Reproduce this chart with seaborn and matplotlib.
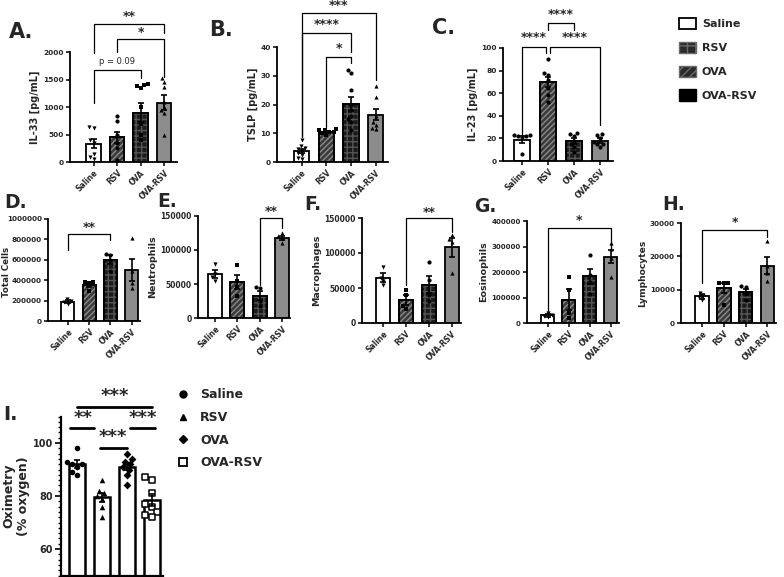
import warnings
warnings.filterwarnings("ignore")
import numpy as np
import pandas as pd
import matplotlib
matplotlib.use("Agg")
import matplotlib.pyplot as plt
import seaborn as sns
from matplotlib.patches import Patch, Rectangle
from matplotlib.lines import Line2D

sns.set_theme(style="ticks")
plt.rcParams["font.family"] = ["DejaVu Sans"]
plt.rcParams["font.weight"] = "bold"
plt.rcParams["axes.labelweight"] = "bold"
plt.rcParams["hatch.linewidth"] = 1.0

groups = ["Saline", "RSV", "OVA", "OVA-RSV"]

# ---------------- data ----------------
# A: IL-33
a_saline = [640, 620, 400, 350, 150, 100, 60]
a_rsv = [830, 740, 500, 350, 250, 30]
a_ova = [1420, 1380, 1400, 1350, 1000, 700, 500, 400]
a_ova_rsv = [1520, 1450, 1370, 1100, 1000, 950, 900, 500]
a_mean = [330, 450, 900, 1080]
a_sem = [80, 100, 170, 130]
# B: TSLP
b_saline = [7.5, 5.5, 5, 4.5, 4, 3, 2.5, 1.5, 1]
b_rsv = [11.5, 11, 11, 10.5, 10.5, 10, 9.5]
b_ova = [32, 31, 25, 20, 18, 16, 15, 14, 11]
b_ova_rsv = [26.5, 22.5, 16, 14, 13, 12, 11.5]
b_mean = [3.8, 10.5, 20.2, 16.5]
b_sem = [0.7, 0.4, 2.3, 2.0]
# C: IL-23
c_saline = [23, 23, 22, 22, 21, 6]
c_rsv = [90, 78, 76, 72, 65, 58, 52]
c_ova = [25, 24, 22, 18, 15, 12, 8]
c_ova_rsv = [24, 23, 20, 17, 15, 15, 12]
c_mean = [19, 70, 17.5, 18]
c_sem = [2.7, 4.5, 2.5, 2.0]
# D: Total cells
d_saline = [215000, 195000, 185000, 165000]
d_rsv = [385000, 380000, 370000, 290000]
d_ova = [660000, 650000, 600000, 490000]
d_ova_rsv = [815000, 490000, 370000, 325000]
d_mean = [190000, 355000, 600000, 500000]
d_sem = [12000, 20000, 45000, 110000]
# E: Neutrophils
e_saline = [80000, 65000, 60000, 55000]
e_rsv = [78000, 55000, 45000, 33000]
e_ova = [46000, 44000, 25000, 17000]
e_ova_rsv = [125000, 120000, 118000, 110000]
e_mean = [65000, 53000, 33000, 118000]
e_sem = [6000, 10000, 7000, 3000]
# F: Macrophages
f_saline = [80000, 65000, 60000, 54000]
f_rsv = [47000, 40000, 25000, 20000]
f_ova = [87000, 62000, 40000, 31000]
f_ova_rsv = [125000, 120000, 115000, 72000]
f_mean = [65000, 33000, 55000, 108000]
f_sem = [6000, 7000, 12000, 13000]
# G: Eosinophils
g_saline = [40000, 30000, 28000, 22000]
g_rsv = [180000, 130000, 40000, 18000]
g_ova = [267000, 190000, 160000, 115000]
g_ova_rsv = [315000, 290000, 255000, 180000]
g_mean = [30000, 92000, 183000, 260000]
g_sem = [5000, 40000, 30000, 25000]
# H: Lymphocytes
h_saline = [9000, 8200, 7800, 7000]
h_rsv = [12000, 12000, 12000, 5500]
h_ova = [11000, 10800, 8800, 7000]
h_ova_rsv = [24500, 17000, 15000, 12500]
h_mean = [8000, 10400, 9400, 17200]
h_sem = [700, 1500, 800, 2600]
# I: Oximetry
i_saline = [98, 93, 92, 92, 91, 89, 88]
i_rsv = [86, 82, 81, 80, 79, 76, 72]
i_ova = [96, 94, 93, 92, 91, 90, 88, 84]
i_ova_rsv = [87, 86, 81, 77, 76, 74, 73, 72]
i_mean = [92, 79.5, 91, 78.5]
i_sem = [1.5, 1.8, 1.3, 2.2]

# ---------------- styling ----------------
W, H = 784, 577
fig = plt.figure(figsize=(W / 100, H / 100), dpi=100)

FILL = {"Saline": "white", "RSV": "#3a3a3a", "OVA": "#1a1a1a", "OVA-RSV": "#8c8c8c"}
HATCH = {"RSV": ("//////", "#8a8a8a"), "OVA": ("+++", "#555555")}


def make_ax(left, right, top, bottom):
    return fig.add_axes([left / W, 1 - bottom / H, (right - left) / W, (bottom - top) / H])


def draw_panel(ax, pts, means, sems, markers, xlim, ylim, yticks, ylabel,
               tick_fs=5.3, label_fs=7, pt_size=3, white=False, xlabels=True):
    fills = {g: "white" for g in groups} if white else FILL
    bdf = pd.DataFrame({"group": groups, "mean": means})
    sns.barplot(data=bdf, x="group", y="mean", hue="group", order=groups,
                hue_order=groups, palette=fills, legend=False, width=0.62,
                edgecolor="black", linewidth=1.3, errorbar=None, ax=ax, zorder=1)
    if not white:
        for p in list(ax.patches):
            xc = p.get_x() + p.get_width() / 2
            g = groups[int(round(xc))]
            if g in HATCH:
                h, c = HATCH[g]
                ax.add_patch(Rectangle((p.get_x(), p.get_y()), p.get_width(), p.get_height(),
                                       fill=False, hatch=h, edgecolor=c, linewidth=0, zorder=1.5))
                ax.add_patch(Rectangle((p.get_x(), p.get_y()), p.get_width(), p.get_height(),
                                       fill=False, edgecolor="black", linewidth=1.3, zorder=1.6))
    for g, vals, m in zip(groups, pts, markers):
        sdf = pd.DataFrame({"group": [g] * len(vals), "value": vals})
        if m == "open_s":
            sns.swarmplot(data=sdf, x="group", y="value", order=groups, marker="s",
                          color="white", edgecolor="black", linewidth=1.1, size=pt_size,
                          ax=ax, zorder=3)
        else:
            sns.swarmplot(data=sdf, x="group", y="value", order=groups, marker=m,
                          color="black", size=pt_size, ax=ax, zorder=3)
    ax.errorbar(np.arange(4), means, yerr=sems, fmt="none", ecolor="black",
                elinewidth=1.2, capsize=2.5, capthick=1.2, zorder=4)
    ax.set_xlim(*xlim)
    ax.set_ylim(*ylim)
    ax.set_yticks(yticks)
    ax.set_yticklabels([f"{t:g}" if t < 1e5 else str(int(t)) for t in yticks],
                       fontsize=tick_fs, fontweight="bold")
    ax.set_xticks(range(4))
    if xlabels:
        ax.set_xticklabels(groups, rotation=45, ha="right", rotation_mode="anchor",
                           fontsize=5.5, fontweight="bold")
    else:
        ax.set_xticklabels([""] * 4)
    ax.set_xlabel("")
    ax.set_ylabel(ylabel, fontsize=label_fs, fontweight="bold", labelpad=2)
    ax.tick_params(axis="both", direction="out", length=3, width=1.1, pad=1.5, color="black")
    for s in ["left", "bottom"]:
        ax.spines[s].set_linewidth(1.3)
        ax.spines[s].set_color("black")
    sns.despine(ax=ax)
    ax.set_facecolor("none")


def bracket(ax, x1, x2, y, yl1, yl2, label, ty, fs=9, weight="bold"):
    ax.plot([x1, x1, x2, x2], [yl1, y, y, yl2], color="black", lw=0.9,
            clip_on=False, zorder=5)
    ax.text((x1 + x2) / 2, ty, label, ha="center", va="center", fontsize=fs,
            fontweight=weight, clip_on=False)


def letter(x, y, s, fs=14):
    fig.text(x / W, 1 - y / H, s, fontsize=fs, fontweight="bold", ha="left", va="center")


# ---------------- A ----------------
axA = make_ax(70, 177, 52, 162)
draw_panel(axA, [a_saline, a_rsv, a_ova, a_ova_rsv], a_mean, a_sem, ["v", "o", "s", "^"],
           (-1.0, 3.55), (0, 2000), [0, 500, 1000, 1500, 2000], "IL-33 [pg/mL]")
bracket(axA, 0, 3, 2509, 1982, 2345, "**", 2640)
bracket(axA, 1, 3, 2236, 2000, 1545, "*", 2360)
bracket(axA, 0, 2, 1673, 1073, 1527, "p = 0.09", 1830, fs=6, weight="normal")
letter(9, 32, "A.", 15)

# ---------------- B ----------------
axB = make_ax(277, 388, 47, 162)
draw_panel(axB, [b_saline, b_rsv, b_ova, b_ova_rsv], b_mean, b_sem, ["v", "s", "o", "^"],
           (-1.0, 3.5), (0, 40), [0, 10, 20, 30, 40], "TSLP [pg/mL]")
bracket(axB, 0, 3, 51.9, 8.7, 28.5, "***", 54.3)
bracket(axB, 0, 2, 44.9, 8.7, 38.3, "****", 47.9)
bracket(axB, 1, 2, 36.5, 12.2, 34.4, "*", 39.5)
letter(209, 30, "B.", 15)

# ---------------- C ----------------
axC = make_ax(503, 613, 48, 161)
draw_panel(axC, [c_saline, c_rsv, c_ova, c_ova_rsv], c_mean, c_sem, ["o", "o", "o", "o"],
           (-0.73, 3.5), (0, 100), [0, 20, 40, 60, 80, 100], "IL-23 [pg/mL]")
bracket(axC, 0, 0.93, 100.9, 22, 95.6, "****", 109)
bracket(axC, 1.07, 3, 100.9, 95.6, 31.9, "****", 109)
bracket(axC, 1.0, 2, 122, 116, 116, "****", 129.5)
letter(432, 28, "C.", 15)

# ---------------- D ----------------
axD = make_ax(48, 140, 219, 321)
draw_panel(axD, [d_saline, d_rsv, d_ova, d_ova_rsv], d_mean, d_sem, ["v", "s", "o", "^"],
           (-0.94, 3.4), (0, 1000000), [0, 200000, 400000, 600000, 800000, 1000000],
           "Total Cells", tick_fs=5.2, label_fs=6.2)
axD.yaxis.set_label_coords((11 - 48) / 92, 0.48)
bracket(axD, 0, 2, 853000, 696000, 794000, "**", 915000)
letter(4, 203, "D.", 13.5)

# ---------------- E ----------------
axE = make_ax(198, 290, 216, 318)
draw_panel(axE, [e_saline, e_rsv, e_ova, e_ova_rsv], e_mean, e_sem, ["v", "s", "o", "^"],
           (-0.76, 3.35), (0, 150000), [0, 50000, 100000, 150000],
           "Neutrophils", tick_fs=5.5, label_fs=6.8)
bracket(axE, 2, 3, 147000, 48500, 132000, "**", 157000)
letter(157, 202, "E.", 13.5)

# ---------------- F ----------------
axF = make_ax(362, 461, 218, 323)
draw_panel(axF, [f_saline, f_rsv, f_ova, f_ova_rsv], f_mean, f_sem, ["v", "s", "o", "^"],
           (-0.91, 3.4), (0, 150000), [0, 50000, 100000, 150000],
           "Macrophages", tick_fs=5.5, label_fs=6.8)
bracket(axF, 1, 3, 150000, 54000, 130000, "**", 158000)
letter(304, 205, "F.", 13.5)

# ---------------- G ----------------
axG = make_ax(527, 619, 221, 323)
draw_panel(axG, [g_saline, g_rsv, g_ova, g_ova_rsv], g_mean, g_sem, ["v", "s", "o", "^"],
           (-1.0, 3.4), (0, 400000), [0, 100000, 200000, 300000, 400000],
           "Eosinophils", tick_fs=5.0, label_fs=6.8)
bracket(axG, 0, 3, 372000, 39000, 294000, "*", 402000)
letter(474, 206, "G.", 13.5)

# ---------------- H ----------------
axH = make_ax(681, 776, 223, 323)
draw_panel(axH, [h_saline, h_rsv, h_ova, h_ova_rsv], h_mean, h_sem, ["v", "s", "o", "^"],
           (-0.97, 3.4), (0, 30000), [0, 10000, 20000, 30000],
           "Lymphocytes", tick_fs=5.2, label_fs=6.6)
bracket(axH, 0, 3, 27900, 12000, 25800, "*", 30200)
letter(662, 205, "H.", 13.5)

# ---------------- I ----------------
axI = make_ax(61, 163, 416.5, 575.5)
draw_panel(axI, [i_saline, i_rsv, i_ova, i_ova_rsv], i_mean, i_sem, ["o", "^", "D", "open_s"],
           (-0.64, 3.45), (50, 110), [60, 80, 100], "Oximetry\n(% oxygen)",
           tick_fs=7, label_fs=9, pt_size=4, white=True, xlabels=False)
for p in axI.patches:
    p.set_linewidth(1.8)
axI.set_yticks(np.arange(50, 111, 2), minor=True)
axI.tick_params(axis="y", which="minor", length=2.5, width=1.0, color="black")
axI.tick_params(axis="y", which="major", length=4, width=1.2)
axI.spines["left"].set_linewidth(1.6)
axI.spines["bottom"].set_linewidth(1.6)
for (x1, x2, y, txt, tx, ty) in [(0.0, 3.0, 113.6, "***", 1.52, 117.6),
                                  (-0.28, 0.68, 105.7, "**", 0.24, 109.6),
                                  (0.92, 2.0, 98.1, "***", 1.44, 102.4),
                                  (2.12, 3.12, 105.7, "***", 2.64, 109.6)]:
    axI.plot([x1, x2], [y, y], color="black", lw=2.0, clip_on=False, zorder=5)
    axI.text(tx, ty, txt, ha="center", va="center", fontsize=13, fontweight="bold", clip_on=False)
letter(3, 415, "I.", 14)

# ---------------- legends ----------------
leg_handles = [Patch(facecolor="white", edgecolor="black", linewidth=1.3),
               Patch(facecolor="#2a2a2a", edgecolor="#6a6a6a", hatch="++", linewidth=1.0),
               Patch(facecolor="#2a2a2a", edgecolor="#6a6a6a", hatch="////", linewidth=1.0),
               Patch(facecolor="black", edgecolor="black", linewidth=1.0)]
fig.legend(handles=leg_handles, labels=groups, loc="upper left",
           bbox_to_anchor=(673 / W, 1 - 12 / H), frameon=False, borderpad=0,
           handlelength=1.6, handleheight=1.25, handletextpad=0.5, labelspacing=1.1,
           prop={"size": 8, "weight": "bold"})

i_handles = [Line2D([], [], marker="o", ls="none", color="black", markersize=5),
             Line2D([], [], marker="^", ls="none", color="black", markersize=5),
             Line2D([], [], marker="D", ls="none", color="black", markersize=4),
             Line2D([], [], marker="s", ls="none", markerfacecolor="white",
                    markeredgecolor="black", markeredgewidth=1.3, markersize=5.5)]
fig.legend(handles=i_handles, labels=groups, loc="upper left",
           bbox_to_anchor=(170 / W, 1 - 382 / H), frameon=False, borderpad=0,
           handlelength=1.0, handletextpad=0.9, labelspacing=0.78,
           prop={"size": 9, "weight": "bold"})

fig.savefig("out.png", dpi=100)
